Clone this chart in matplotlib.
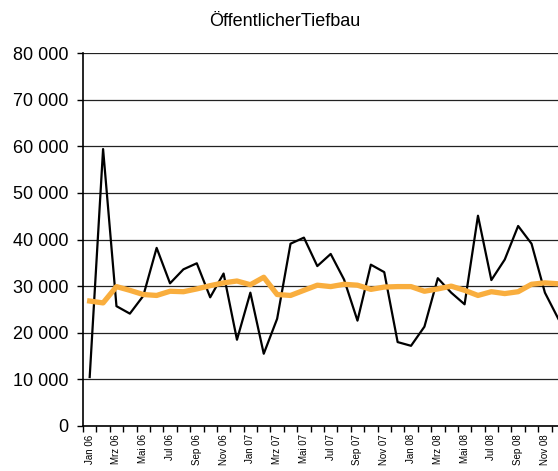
import numpy as np
import matplotlib
matplotlib.use("Agg")
from matplotlib import pyplot as plt

plt.rcParams['font.family'] = ['Liberation Sans', 'DejaVu Sans']

months = ["Jan", "Feb", "Mrz", "Apr", "Mai", "Jun", "Jul", "Aug", "Sep", "Okt", "Nov", "Dez"]
years = ["06", "07", "08"]
categories = [m + " " + y for y in years for m in months]

# monthly values (black)
values = [10500, 59400, 25700, 24100, 27900, 38200, 30600, 33600, 34900, 27600, 32700, 18500,
          28600, 15500, 23000, 39100, 40400, 34300, 36900, 31400, 22600, 34600, 33000, 18000,
          17200, 21300, 31700, 28600, 26100, 45100, 31300, 35700, 42900, 39100, 28600, 23000]
# trend (orange)
trend = [26800, 26400, 29900, 29100, 28200, 28000, 28900, 28800, 29400, 30100, 30700, 31100,
         30300, 31900, 28200, 28000, 29100, 30200, 29900, 30400, 30200, 29300, 29800, 29900,
         29900, 28900, 29400, 30000, 29100, 28000, 28800, 28400, 28800, 30400, 30700, 30500]

yticks = [0, 10000, 20000, 30000, 40000, 50000, 60000, 70000, 80000]
ylabels = ["0", "10 000", "20 000", "30 000", "40 000", "50 000", "60 000", "70 000", "80 000"]

fig = plt.figure(figsize=(5.58, 4.71), dpi=100)
ax = fig.add_axes([83/558, 1 - 426/471, (565 - 83)/558, (426 - 53)/471])

x = np.arange(len(categories))
ax.plot(x, values, color="black", lw=1.6, zorder=3)
ax.plot(x, trend, color="#F9AE3E", lw=3.8, zorder=4, solid_joinstyle="round")

ax.set_xlim(-0.5, len(categories) - 0.5)
ax.set_ylim(0, 80000)
ax.set_yticks(yticks)
ax.set_yticklabels(ylabels, fontsize=13)
ax.yaxis.grid(True, color="#222222", lw=0.9)
ax.set_axisbelow(True)

ax.set_xticks(np.arange(len(categories) + 1) - 0.5)
ax.set_xticklabels([])
ax.set_xticks(x[::2], minor=True)
ax.set_xticklabels(categories[::2], minor=True, rotation=90, fontsize=7)
ax.tick_params(axis="x", which="major", length=4, width=1, direction="out")
ax.tick_params(axis="x", which="minor", length=0, pad=6)
ax.tick_params(axis="y", length=4.5, width=1, pad=6)

for s in ["top", "right"]:
    ax.spines[s].set_visible(False)
ax.spines["left"].set_linewidth(1.2)
ax.spines["bottom"].set_linewidth(1.2)

fig.text(285/558, 1 - 22/471, "ÖffentlicherTiefbau", ha="center", va="center", fontsize=13)

fig.savefig("out.png", dpi=100)
